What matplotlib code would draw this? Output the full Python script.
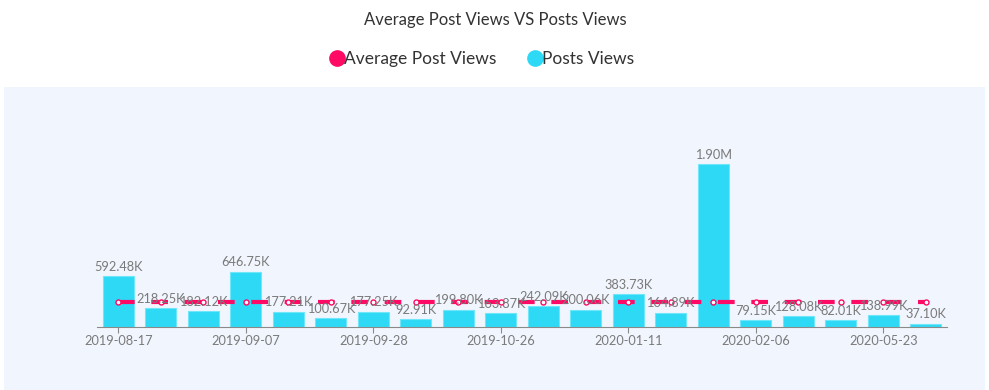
import numpy as np
import matplotlib
matplotlib.use('Agg')
from matplotlib import pyplot as plt
from matplotlib.lines import Line2D
from matplotlib.patches import Rectangle

dates = ['2019-08-17', '2019-08-24', '2019-08-31', '2019-09-07', '2019-09-14',
         '2019-09-21', '2019-09-28', '2019-10-05', '2019-10-12', '2019-10-26',
         '2019-11-02', '2019-11-16', '2020-01-11', '2020-01-18', '2020-01-25',
         '2020-02-06', '2020-03-14', '2020-04-18', '2020-05-23', '2020-06-06']
post_views = [592.48, 218.25, 182.12, 646.75, 177.21, 100.67, 177.25, 92.91, 199.80, 163.87,
              242.09, 200.06, 383.73, 164.89, 1900.0, 79.15, 128.08, 82.01, 138.99, 37.10]
bar_labels = ['592.48K', '218.25K', '182.12K', '646.75K', '177.21K', '100.67K', '177.25K',
              '92.91K', '199.80K', '163.87K', '242.09K', '200.06K', '383.73K', '164.89K',
              '1.90M', '79.15K', '128.08K', '82.01K', '138.99K', '37.10K']
avg_views = [295.37] * 20

pink = '#ff0a64'
cyan = '#2ed9f5'
grey = '#7a7a7a'

plt.rcParams['font.family'] = ['Lato', 'DejaVu Sans']
plt.rcParams['lines.scale_dashes'] = False

fig = plt.figure(figsize=(9.89, 3.9), dpi=100)
fig.add_artist(Rectangle((4 / 989, 0), 981 / 989, 303 / 390, transform=fig.transFigure,
                         facecolor='#f1f5fd', edgecolor='none', zorder=0))

ax = fig.add_axes([97 / 989, 63 / 390, 850 / 989, 240 / 390])
ax.patch.set_visible(False)
x = np.arange(len(dates))
ax.bar(x, post_views, width=0.72, color=cyan, edgecolor='#6fe6fa', linewidth=0.8, zorder=2)
ax.plot(x, avg_views, color=pink, lw=3, dashes=(12, 12), zorder=3,
        marker='o', ms=3.6, mfc='white', mec=pink, mew=1.0)
for i, v in enumerate(post_views):
    ax.text(i, v + 40, bar_labels[i], ha='center', va='bottom', fontsize=9.2, color=grey, zorder=4)

ax.set_xlim(-0.5, len(dates) - 0.5)
ax.set_ylim(0, 240 / 0.0858)
ax.set_xticks(x[::3])
ax.set_xticklabels(dates[::3], fontsize=9.2, color=grey)
ax.set_yticks([])
for s in ['top', 'right', 'left']:
    ax.spines[s].set_visible(False)
ax.spines['bottom'].set_color('#8a8a8a')
ax.tick_params(axis='x', length=4, color='#8a8a8a', pad=2)

fig.text(0.5005, 0.949, 'Average Post Views VS Posts Views', ha='center', va='center',
         fontsize=12, color='#333333')

handles = [Line2D([], [], ls='none', marker='o', ms=11, color=pink),
           Line2D([], [], ls='none', marker='o', ms=11, color=cyan)]
fig.legend(handles, ['Average Post Views', 'Posts Views'], loc='center',
           bbox_to_anchor=(0.488, 0.849), ncol=2, frameon=False, fontsize=12.5,
           handlelength=0.7, handletextpad=0.05, columnspacing=1.9, labelcolor='#333333')

fig.savefig('out.png', dpi=100)
